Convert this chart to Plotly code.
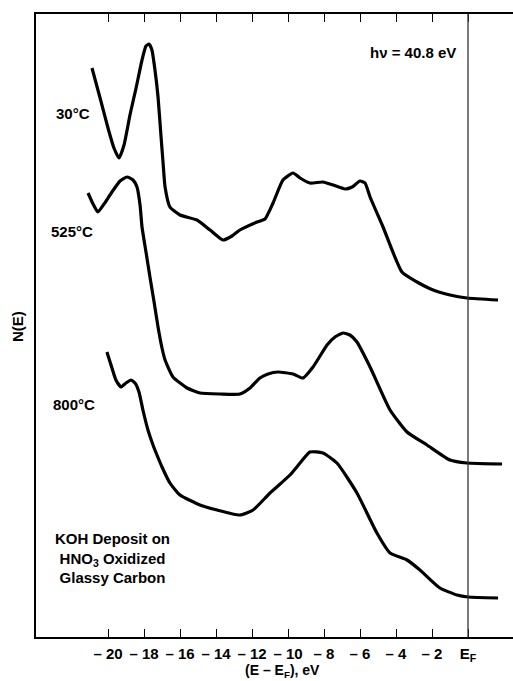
import plotly.graph_objects as go

# ---- data (E - E_F in eV, N(E) arbitrary units) ----
e_30 = [-20.89, -20.44, -20.0, -19.67, -19.39, -19.11, -18.78, -18.44, -18.11, -17.89, -17.72, -17.56,
        -17.39, -17.22, -17.06, -16.94, -16.83, -16.56, -16.0, -15.06, -14.33, -13.61, -13.11, -12.67,
        -11.72, -11.28, -10.83, -10.28, -9.72, -9.33, -8.78, -8.06, -7.5, -6.83, -6.44, -6.0, -5.72,
        -5.44, -4.72, -3.67, -2.83, -1.94, -1.0, -0.06, 1.67]
n_30 = [569, 539, 509, 489, 479, 492, 522, 549, 577, 591, 593, 587,
        567, 540, 502, 474, 450, 430, 422, 417, 407, 397, 401, 407,
        415, 418, 434, 457, 464, 459, 454, 455, 452, 448, 450, 456, 454,
        440, 410, 365, 355, 347, 342, 339, 337]

e_525 = [-21.11, -20.83, -20.56, -20.22, -19.78, -19.33, -18.94, -18.61, -18.39, -18.22, -18.11, -17.89,
         -17.67, -17.44, -17.22, -17.0, -16.83, -16.39, -15.61, -14.89, -13.78, -12.67, -12.11, -11.56,
         -11.11, -10.56, -9.72, -9.17, -8.61, -7.83, -7.39, -6.94, -6.56, -6.17, -5.44, -4.33, -3.39,
         -2.28, -1.0, -0.06, 1.89]
n_525 = [444, 433, 425, 433, 445, 456, 460, 457, 450, 432, 410, 385,
         360, 335, 310, 289, 277, 260, 249, 244, 243, 243, 249, 259,
         263, 265, 263, 259, 270, 292, 300, 304, 302, 295, 270, 227, 205,
         192, 177, 174, 173]

e_800 = [-20.06, -19.78, -19.56, -19.28, -19.0, -18.72, -18.5, -18.28, -18.06, -17.78, -17.5, -17.28,
         -17.0, -16.56, -16.0, -14.89, -13.94, -12.67, -11.94, -11.0, -9.89, -9.33, -8.78, -8.06,
         -7.28, -6.17, -5.06, -4.33, -3.39, -2.67, -1.56, -0.61, 0.0, 1.67]
n_800 = [285, 269, 257, 250, 254, 257, 254, 245, 227, 207, 192, 182,
         170, 154, 142, 132, 127, 122, 127, 144, 162, 174, 185, 184,
         174, 144, 104, 84, 77, 67, 49, 42, 40, 39]

tick_vals = [-20, -18, -16, -14, -12, -10, -8, -6, -4, -2, 0]
tick_text = ["– 20", "– 18", "– 16", "– 14", "– 12", "– 10", "– 8", "– 6", "– 4", "– 2", "E<sub>F</sub>"]

series_labels = ["30°C", "525°C", "800°C"]

FONT = "Liberation Sans"
W, H = 513, 681
L, R, T, B = 36, 0, 14, 44

def px(x):
    return (x - L) / (W - L - R)

def py(y):
    return (H - B - y) / (H - B - T)

fig = go.Figure()
for e, n, name in [(e_30, n_30, series_labels[0]), (e_525, n_525, series_labels[1]), (e_800, n_800, series_labels[2])]:
    fig.add_trace(go.Scatter(x=e, y=n, mode="lines", name=name,
                             line=dict(color="black", width=3.2, shape="spline", smoothing=0.5)))

fig.add_shape(type="line", xref="x", yref="paper", x0=0, x1=0, y0=0, y1=1,
              line=dict(color="#333333", width=1.3))

bold = dict(family=FONT, size=15, color="black", weight="bold")
ann = [
    dict(text="30°C", x=px(73), y=py(113)),
    dict(text="525°C", x=px(72), y=py(232)),
    dict(text="800°C", x=px(74), y=py(404)),
    dict(text="hν = 40.8 eV", x=px(413), y=py(53)),
    dict(text="KOH Deposit on<br>HNO<sub>3</sub> Oxidized<br>Glassy Carbon", x=px(112), y=py(558)),
    dict(text="(E – E<sub>F</sub>), eV", x=px(282), y=py(671), font=dict(family=FONT, size=14, color="black", weight="bold")),
    dict(text="N(E)", x=px(18), y=py(327), textangle=-90),
]
for a in ann:
    f = a.pop("font", bold)
    fig.add_annotation(xref="paper", yref="paper", showarrow=False, font=f,
                       xanchor="center", yanchor="middle", **a)

fig.update_layout(
    width=W, height=H,
    margin=dict(l=L, r=R, t=T, b=B),
    plot_bgcolor="white", paper_bgcolor="white",
    showlegend=False,
    xaxis=dict(range=[-24, 2.5], tickvals=tick_vals, ticktext=tick_text,
               ticks="inside", ticklen=8, tickwidth=1.3, tickcolor="black",
               showline=True, linecolor="black", linewidth=1.5, mirror="ticks",
               showgrid=False, zeroline=False, ticklabelstandoff=2,
               tickfont=dict(family=FONT, size=15, color="black", weight="bold")),
    yaxis=dict(range=[0, 623], showline=True, linecolor="black", linewidth=1.5,
               showticklabels=False, ticks="", showgrid=False, zeroline=False),
)

fig.write_html("out.html")
